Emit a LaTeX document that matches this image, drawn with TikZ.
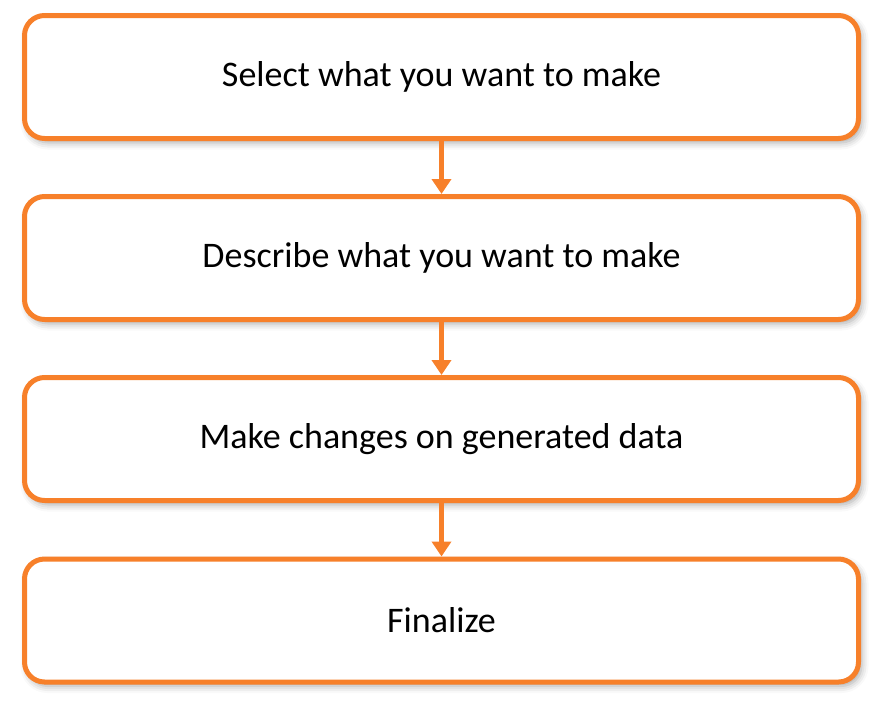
\documentclass[tikz,border=0pt]{standalone}
\usepackage{fontspec}
\setmainfont{Carlito}
\usetikzlibrary{arrows.meta,shadows.blur}
\definecolor{accent}{RGB}{247,128,42}
\begin{document}
\begin{tikzpicture}[x=1pt,y=-1pt,
  stepbox/.style={draw=accent, line width=5pt, fill=white, rounded corners=20pt,
    minimum width=834pt, minimum height=123pt, inner sep=0pt,
    font=\fontsize{36}{43}\selectfont, text=black,
    blur shadow={shadow xshift=3pt, shadow yshift=-4pt, shadow blur radius=7pt, shadow opacity=35}},
  flow/.style={draw=accent, line width=5pt, -{Triangle[width=19pt,length=15pt]}}]
\useasboundingbox (0,0) rectangle (886,713);
\node[stepbox] (b1) at (441.5,77) {Select what you want to make};
\node[stepbox] (b2) at (441.5,258) {Describe what you want to make};
\node[stepbox] (b3) at (441.5,439) {Make changes on generated data};
\node[stepbox] (b4) at (441.5,620.5) {Finalize};
\draw[flow] (b1.south) -- (b2.north);
\draw[flow] (b2.south) -- (b3.north);
\draw[flow] (b3.south) -- (b4.north);
\end{tikzpicture}
\end{document}
